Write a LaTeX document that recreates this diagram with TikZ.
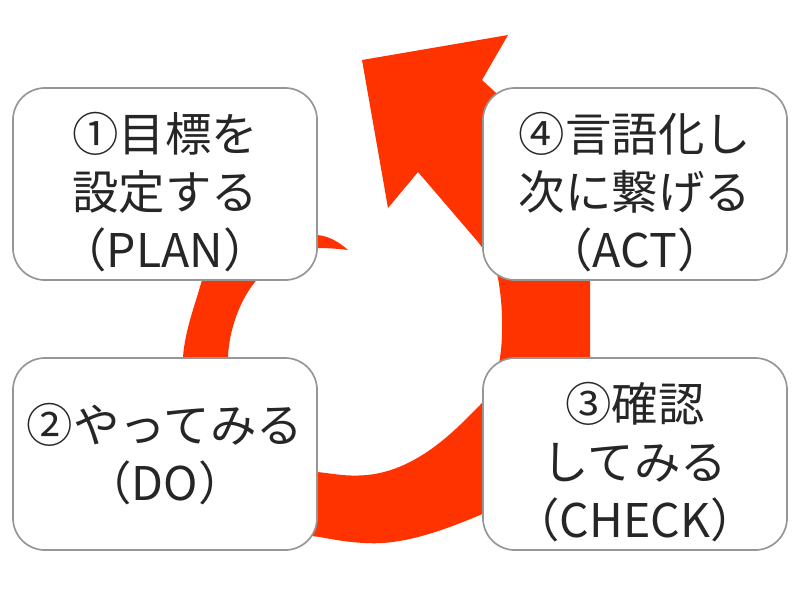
\documentclass[tikz,border=0pt]{standalone}
\usepackage{fontspec}
\setmainfont{Noto Sans CJK JP}
\usepackage{xcolor}
\definecolor{cyclered}{RGB}{255,51,0}
\definecolor{boxline}{RGB}{150,150,150}
\newcommand{\toppad}{\rule{0pt}{1.2em}}

\begin{document}
\begin{tikzpicture}[x=0.025cm, y=-0.025cm,
      stepbox/.style={rectangle, draw=boxline, line width=1.2pt, fill=white, rounded corners=0.8cm, minimum width=7.6cm, minimum height=4.8cm, align=center, font=\fontsize{33}{41}\selectfont, text=black!85},
      cyclearrow/.style={fill=cyclered}
    ]
      \useasboundingbox (0,0) rectangle (800,600);

      % spiral arrow behind the boxes
      \fill[cyclearrow] (348,250) .. controls (338,241) and (328,236) .. (317,235)
        .. controls (265,218) and (215,245) .. (202,280)
        .. controls (195,305) and (185,330) .. (183,357)
        .. controls (175,430) and (240,530) .. (320,537)
        .. controls (345,542) and (365,544) .. (383,543)
        .. controls (410,541) and (440,532) .. (480,515)
        .. controls (540,490) and (590,420) .. (590,358)
        -- (590,278)
        .. controls (590,200) and (540,135) .. (495,92)
        -- (482,80) -- (508,35) -- (362,60) -- (388,208) -- (418,172) -- (478,242)
        .. controls (488,255) and (495,265) .. (498,278)
        .. controls (502,300) and (504,330) .. (500,358)
        .. controls (496,380) and (490,395) .. (480,405)
        .. controls (460,425) and (420,470) .. (367,475)
        .. controls (345,477) and (330,473) .. (317,472)
        .. controls (270,465) and (226,410) .. (228,357)
        .. controls (229,330) and (240,300) .. (255,282)
        .. controls (270,262) and (295,248) .. (317,248)
        .. controls (330,248) and (340,249) .. (348,250) -- cycle;

      \node[stepbox] (plan)  at (165,184) {\toppad①目標を\\設定する\\（PLAN）};
      \node[stepbox] (act)   at (635,184) {\toppad④言語化し\\次に繋げる\\（ACT）};
      \node[stepbox] (do)    at (165,454) {②やってみる\\（DO）};
      \node[stepbox] (check) at (635,454) {\toppad③確認\\してみる\\（CHECK）};
    \end{tikzpicture}
\end{document}
